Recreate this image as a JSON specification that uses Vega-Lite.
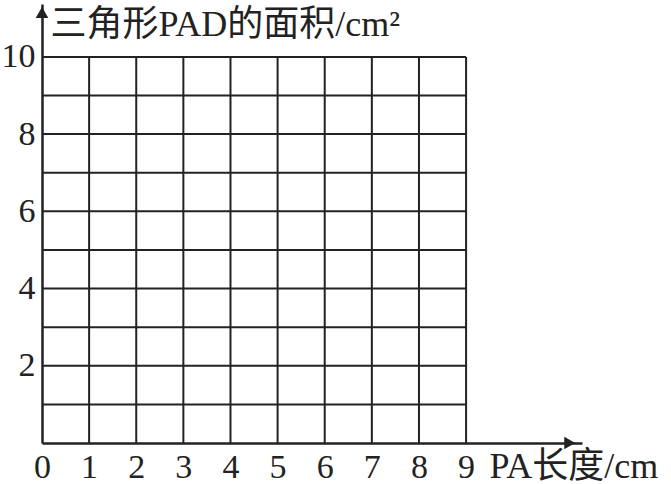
{
  "$schema": "https://vega.github.io/schema/vega-lite/v6.json",
  "width": 540,
  "height": 439,
  "autosize": {"type": "none"},
  "padding": {"left": 42, "top": 4, "right": 89, "bottom": 41},
  "background": "white",
  "config": {
    "view": {"stroke": null},
    "axis": {
      "labelFont": "Liberation Serif",
      "labelFontSize": 34,
      "labelColor": "#222",
      "domainColor": "#222",
      "domainWidth": 2.5,
      "ticks": false,
      "grid": false,
      "labelFlush": false,
      "labelOverlap": false,
      "titleFont": "Liberation Serif, Noto Sans CJK SC",
      "titleFontSize": 36,
      "titleFontWeight": "normal",
      "titleColor": "#222"
    }
  },
  "datasets": {
    "vlines": [
      {"x": 1}, {"x": 2}, {"x": 3}, {"x": 4}, {"x": 5},
      {"x": 6}, {"x": 7}, {"x": 8}, {"x": 9}
    ],
    "hlines": [
      {"y": 1}, {"y": 2}, {"y": 3}, {"y": 4}, {"y": 5},
      {"y": 6}, {"y": 7}, {"y": 8}, {"y": 9}, {"y": 10}
    ],
    "arrows": [
      {"x": 11.2, "y": 0, "dir": "triangle-right"},
      {"x": 0, "y": 11.15, "dir": "triangle-up"}
    ]
  },
  "layer": [
    {
      "data": {"name": "vlines"},
      "mark": {"type": "rule", "color": "#222", "strokeWidth": 2},
      "encoding": {
        "x": {
          "field": "x",
          "type": "quantitative",
          "scale": {"domain": [0, 11.46], "nice": false},
          "axis": {
            "values": [0, 1, 2, 3, 4, 5, 6, 7, 8, 9],
            "labelPadding": 7,
            "title": "PA长度/cm",
            "titleAngle": 0,
            "titleAlign": "left",
            "titleBaseline": "alphabetic",
            "titleX": 447,
            "titleY": 34
          }
        },
        "y": {
          "datum": 0,
          "type": "quantitative",
          "scale": {"domain": [0, 11.37], "nice": false},
          "axis": {
            "values": [2, 4, 6, 8, 10],
            "labelPadding": 7,
            "title": "三角形PAD的面积/cm²",
            "titleAngle": 0,
            "titleAlign": "left",
            "titleBaseline": "alphabetic",
            "titleX": 8,
            "titleY": 31
          }
        },
        "y2": {"datum": 10}
      }
    },
    {
      "data": {"name": "hlines"},
      "mark": {"type": "rule", "color": "#222", "strokeWidth": 2},
      "encoding": {
        "y": {"field": "y", "type": "quantitative"},
        "x": {"datum": 0, "type": "quantitative"},
        "x2": {"datum": 9}
      }
    },
    {
      "data": {"name": "arrows"},
      "mark": {"type": "point", "filled": true, "color": "#222", "opacity": 1, "size": 160},
      "encoding": {
        "x": {"field": "x", "type": "quantitative"},
        "y": {"field": "y", "type": "quantitative"},
        "shape": {"field": "dir", "type": "nominal", "scale": null, "legend": null}
      }
    }
  ]
}
